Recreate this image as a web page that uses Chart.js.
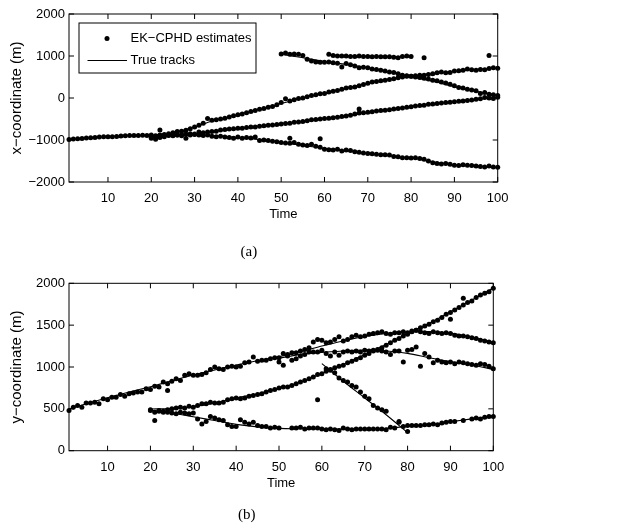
<!DOCTYPE html>
<html>
<head>
<meta charset="utf-8">
<script src="https://cdn.jsdelivr.net/npm/chart.js@4.4.1/dist/chart.umd.min.js"></script>
<style>
  html, body { margin: 0; padding: 0; background: #fff; }
  #wrap { position: relative; width: 626px; height: 530px; }
  canvas { position: absolute; left: 0; }
  #chartA { top: 0; }
  #chartB { top: 265px; }
</style>
</head>
<body>
<div id="wrap">
  <canvas id="chartA" width="626" height="265"></canvas>
  <canvas id="chartB" width="626" height="265"></canvas>
</div>
<script>
// tick labels
const timeTicks = [10, 20, 30, 40, 50, 60, 70, 80, 90, 100];
const xCoordTicks = [-2000, -1000, 0, 1000, 2000];
const yCoordTicks = [0, 500, 1000, 1500, 2000];

// ---- (a) x-coordinate estimates, one value per time step from the given start ----
const estX1 = [ // t = 1..100
  -990, -975, -970, -965, -955, -945, -940, -930, -925, -920,
  -920, -915, -905, -900, -895, -890, -895, -885, -890, -930,
  -900, -880, -870, -850, -830, -800, -790, -770, -730, -690,
  -650, -600, -490, -530, -520, -500, -480, -450, -420, -400,
  -380, -350, -320, -300, -270, -250, -220, -200, -160, -110,
  -20, -70, -40, -10, 0, 30, 60, 80, 100, 110,
  140, 160, 180, 210, 240, 250, 260, 290, 320, 350,
  380, 390, 410, 420, 440, 460, 480, 500, 520, 520,
  530, 540, 540, 560, 580, 600, 620, 600, 610, 640,
  650, 660, 690, 670, 660, 680, 670, 700, 720, 710];
const estX2 = [ // t = 20..100
  -960, -930, -940, -900, -880, -870, -880, -870, -860, -850,
  -860, -810, -830, -810, -800, -790, -760, -750, -740, -730,
  -720, -720, -700, -690, -690, -670, -660, -650, -640, -630,
  -620, -610, -600, -580, -570, -560, -540, -520, -510, -500,
  -490, -480, -470, -460, -440, -430, -410, -380, -360, -350,
  -340, -330, -310, -300, -290, -280, -260, -250, -240, -220,
  -210, -190, -180, -170, -150, -140, -130, -120, -110, -100,
  -90, -80, -70, -60, -50, -30, -20, 10, 0, -10,
  20];
const estX3 = [ // t = 20..100
  -880, -980, -900, -920, -890, -900, -880, -900, -960, -880,
  -870, -880, -890, -880, -910, -920, -910, -930, -940, -960,
  -930, -960, -940, -950, -930, -1010, -1000, -1010, -1030, -1040,
  -1060, -1070, -1080, -1060, -1100, -1120, -1130, -1100, -1150, -1170,
  -1220, -1230, -1240, -1220, -1260, -1240, -1250, -1280, -1290, -1310,
  -1320, -1330, -1340, -1350, -1350, -1360, -1390, -1400, -1420, -1420,
  -1430, -1420, -1440, -1460, -1500, -1540, -1560, -1570, -1560, -1580,
  -1600, -1610, -1590, -1600, -1610, -1620, -1630, -1640, -1620, -1640,
  -1650];
const estX4 = [ // t = 50..100
  1050, 1070, 1040, 1050, 1040, 1010, 920, 880, 860, 850,
  850, 860, 840, 830, 740, 820, 790, 760, 720, 730,
  720, 690, 680, 660, 640, 620, 610, 580, 540, 530,
  520, 500, 490, 470, 450, 420, 410, 380, 360, 330,
  290, 250, 240, 210, 190, 170, 110, 130, 90, 80,
  60];
const estX5 = [ // t = 61..80
  1040, 1010, 1000, 1000, 1000, 990, 990, 1000, 990, 990,
  980, 990, 980, 980, 980, 970, 960, 990, 1000, 990];
const clutterXTime = [22, 52, 59, 68, 83, 98];
const clutterX = [-760, -960, -970, -260, 960, 1010];

// ---- (a) true tracks, x-coordinate ----
const trueX1Time = [1, 5, 10, 15, 20, 25, 30, 35, 40, 45, 50, 55, 60, 65, 70, 75, 80, 85, 90, 95, 100];
const trueX1 = [-990, -955, -920, -900, -890, -830, -690, -520, -400, -270, -130, 0, 120, 230, 350, 450, 520, 580, 630, 680, 710];
const trueX23Time = [20, 25, 30, 35, 40, 45, 50, 55, 60, 65, 70, 75, 80, 85, 90, 95, 100];
const trueX2 = [-900, -890, -860, -790, -730, -670, -610, -560, -490, -420, -350, -270, -200, -140, -90, -30, 10];
const trueX3 = [-900, -890, -880, -905, -940, -990, -1060, -1130, -1200, -1260, -1320, -1380, -1430, -1520, -1590, -1620, -1650];
const trueX4Time = [50, 55, 60, 65, 70, 75, 80, 85, 90, 95, 100];
const trueX4 = [1040, 960, 870, 800, 720, 620, 510, 400, 270, 160, 60];
const trueX5Time = [61, 65, 70, 75, 80];
const trueX5 = [1030, 1005, 990, 985, 980];

// ---- (b) y-coordinate estimates ----
const estY1 = [ // t = 1..100
  480, 520, 540, 520, 570, 570, 580, 560, 620, 610,
  640, 640, 670, 650, 680, 690, 700, 700, 740, 730,
  770, 760, 820, 800, 830, 860, 840, 900, 920, 900,
  900, 910, 930, 970, 1000, 980, 970, 1000, 1010, 1000,
  1010, 1050, 1060, 1120, 1070, 1080, 1080, 1100, 1110, 1110,
  1160, 1150, 1170, 1170, 1190, 1210, 1230, 1300, 1330, 1320,
  1290, 1300, 1330, 1360, 1310, 1330, 1360, 1380, 1360, 1370,
  1390, 1400, 1410, 1420, 1400, 1390, 1410, 1410, 1420, 1410,
  1430, 1440, 1420, 1410, 1400, 1420, 1410, 1400, 1410, 1400,
  1380, 1370, 1370, 1360, 1350, 1340, 1320, 1310, 1300, 1290];
const estY2 = [ // t = 20..100
  490, 460, 480, 470, 490, 500, 510, 520, 510, 530,
  520, 540, 560, 560, 580, 570, 570, 580, 610, 620,
  630, 620, 630, 650, 660, 670, 680, 700, 720, 730,
  750, 760, 760, 780, 800, 820, 840, 860, 880, 910,
  920, 950, 970, 990, 1010, 1020, 1050, 1070, 1090, 1110,
  1140, 1160, 1190, 1210, 1230, 1260, 1290, 1320, 1340, 1370,
  1390, 1420, 1440, 1470, 1490, 1510, 1540, 1560, 1590, 1630,
  1650, 1680, 1710, 1740, 1770, 1790, 1830, 1860, 1880, 1900,
  1940];
const estY3 = [ // t = 20..100
  480, 360, 470, 460, 460, 450, 440, 460, 450, 440,
  450, 380, 320, 350, 410, 390, 370, 360, 310, 290,
  290, 370, 340, 320, 340, 300, 290, 290, 270, 280,
  270, null, null, 270, 270, 280, 260, 270, 270, 270,
  260, 250, 260, 250, 240, 270, 260, 250, 260, 260,
  260, 260, 260, 260, 260, 250, 280, 270, 340, 290,
  300, 300, 300, 300, 310, 310, 320, 310, 330, 340,
  350, 350, null, 360, null, 380, 390, 380, 400, 410,
  410];
const estY4 = [ // t = 50..100
  1060, 1020, 1130, 1080, 1100, 1130, 1150, 1180, 1180, 1180,
  1200, 1160, 1130, 1180, 1140, 1180, 1190, 1180, 1190, 1180,
  1200, 1190, 1200, 1200, 1190, 1180, 1150, 1190, 1190, 1060,
  1200, 1210, 1240, 1010, 1160, 1120, 1050, 1080, 1060, 1050,
  1060, 1040, 1060, 1050, 1040, 1030, 1020, 1040, 1030, 1010,
  980];
const estY5 = [ // t = 61..80
  980, 960, 930, 870, 840, 820, 780, 760, 700, 650,
  620, 540, 510, 490, 470, null, null, 350, null, 230];
const clutterYTime = [24, 59, 90, 93];
const clutterY = [720, 610, 1570, 1820];

// ---- (b) true tracks, y-coordinate ----
const trueY1 = [498, 560, 633, 700, 765, 835, 904, 965, 1024, 1075, 1123, 1183, 1250, 1310, 1365, 1400, 1420, 1425, 1405, 1355, 1295];
const trueY2 = [498, 505, 526, 570, 630, 680, 745, 820, 924, 1030, 1150, 1270, 1400, 1520, 1660, 1800, 1945];
const trueY3 = [486, 450, 406, 360, 315, 285, 267, 262, 259, 258, 262, 268, 290, 310, 345, 380, 415];
const trueY4 = [1104, 1151, 1175, 1191, 1203, 1191, 1163, 1112, 1064, 1024, 972];
const trueY5Time = [60, 65, 70, 75, 80];
const trueY5 = [1040, 830, 630, 430, 215];

const FONT = "'Liberation Sans', Arial, Helvetica, sans-serif";
const SERIF = "'Liberation Serif', 'Times New Roman', serif";

function fromStart(start, vals) {
  return vals.map((v, i) => ({ x: start + i, y: v })).filter(p => p.y !== null);
}
function pairs(times, vals) {
  return times.map((t, i) => ({ x: t, y: vals[i] }));
}

function estimates(points) {
  return {
    label: "EK\u2212CPHD estimates",
    data: points,
    showLine: false,
    pointRadius: 2.5,
    pointBorderWidth: 0,
    pointBackgroundColor: "#000",
    clip: false,
  };
}
function track(points, label) {
  return {
    label: label || "",
    data: points,
    showLine: true,
    pointRadius: 0,
    borderColor: "#000",
    borderWidth: 1.1,
    tension: 0.4,
    cubicInterpolationMode: "monotone",
  };
}

// box round the axes with inward ticks on all four sides
const boxTicks = {
  id: "boxTicks",
  afterDraw(chart) {
    const { ctx, chartArea: a, scales } = chart;
    ctx.save();
    ctx.strokeStyle = "#000";
    ctx.lineWidth = 1;
    ctx.beginPath();
    scales.x.ticks.forEach((t) => {
      const px = scales.x.getPixelForValue(t.value);
      ctx.moveTo(px, a.bottom);
      ctx.lineTo(px, a.bottom - 5);
      ctx.moveTo(px, a.top);
      ctx.lineTo(px, a.top + 5);
    });
    scales.y.ticks.forEach((t) => {
      const py = scales.y.getPixelForValue(t.value);
      ctx.moveTo(a.left, py);
      ctx.lineTo(a.left + 5, py);
      ctx.moveTo(a.right, py);
      ctx.lineTo(a.right - 5, py);
    });
    ctx.stroke();
    ctx.strokeRect(a.left, a.top, a.right - a.left, a.bottom - a.top);
    ctx.restore();
  },
};

// boxed legend in the upper left corner of the axes
const boxLegend = {
  id: "boxLegend",
  afterDraw(chart) {
    const { ctx, chartArea: a } = chart;
    const sets = chart.data.datasets;
    const x0 = a.left + 10, y0 = a.top + 9, w = 177, h = 50;
    ctx.save();
    ctx.fillStyle = "#fff";
    ctx.fillRect(x0, y0, w, h);
    ctx.strokeStyle = "#000";
    ctx.lineWidth = 1;
    ctx.strokeRect(x0, y0, w, h);
    ctx.fillStyle = "#000";
    ctx.beginPath();
    ctx.arc(x0 + 28, y0 + 15.5, 2.5, 0, Math.PI * 2);
    ctx.fill();
    ctx.beginPath();
    ctx.moveTo(x0 + 8.5, y0 + 37.5);
    ctx.lineTo(x0 + 48, y0 + 37.5);
    ctx.stroke();
    ctx.font = "13px " + FONT;
    ctx.textBaseline = "middle";
    ctx.fillText(sets[0].label, x0 + 51.5, y0 + 15.5);
    ctx.fillText(sets[1].label, x0 + 51.5, y0 + 37.5);
    ctx.restore();
  },
};

function makeOptions(cfg) {
  const tickFont = { family: FONT, size: 13 };
  return {
    responsive: false,
    animation: false,
    events: [],
    layout: { padding: { left: 0, top: cfg.padTop, right: cfg.padRight, bottom: cfg.padBottom } },
    plugins: {
      legend: { display: false },
      tooltip: { enabled: false },
      title: {
        display: true,
        position: "bottom",
        text: cfg.caption,
        color: "#000",
        font: { family: SERIF, size: 15, weight: "normal" },
        padding: { top: cfg.captionGap, bottom: 4 },
      },
    },
    scales: {
      x: {
        type: "linear",
        min: 1,
        max: 100,
        afterBuildTicks: (axis) => { axis.ticks = timeTicks.map((v) => ({ value: v })); },
        afterFit: (axis) => { axis.height = cfg.xHeight; },
        grid: { display: false, drawTicks: false },
        border: { display: false },
        ticks: { color: "#000", font: tickFont, padding: 9, maxRotation: 0, autoSkip: false, callback: (v) => String(v) },
        title: { display: true, text: "Time", color: "#000", font: tickFont, padding: { top: 0, bottom: 4 } },
      },
      y: {
        type: "linear",
        min: cfg.yTicks[0],
        max: cfg.yTicks[cfg.yTicks.length - 1],
        afterBuildTicks: (axis) => { axis.ticks = cfg.yTicks.map((v) => ({ value: v })); },
        afterFit: (axis) => { axis.width = 69; },
        grid: { display: false, drawTicks: false },
        border: { display: false },
        ticks: { color: "#000", font: tickFont, padding: 4, callback: (v) => (v < 0 ? "\u2212" : "") + Math.abs(v) },
        title: { display: true, text: cfg.yTitle, color: "#000", font: { family: FONT, size: 15 }, padding: { top: 8, bottom: 0 } },
      },
    },
  };
}

new Chart(document.getElementById("chartA"), {
  type: "scatter",
  data: {
    datasets: [
      estimates([
        ...fromStart(1, estX1), ...fromStart(20, estX2), ...fromStart(20, estX3),
        ...fromStart(50, estX4), ...fromStart(61, estX5), ...pairs(clutterXTime, clutterX),
      ]),
      track(pairs(trueX1Time, trueX1), "True tracks"),
      track(pairs(trueX23Time, trueX2)),
      track(pairs(trueX23Time, trueX3)),
      track(pairs(trueX4Time, trueX4)),
      track(pairs(trueX5Time, trueX5)),
    ],
  },
  options: makeOptions({
    yTicks: xCoordTicks, yTitle: "x\u2212coordinate (m)", caption: "(a)",
    padTop: 14, padRight: 128.3, padBottom: 0, xHeight: 43.8, captionGap: 17.2,
  }),
  plugins: [boxTicks, boxLegend],
});

new Chart(document.getElementById("chartB"), {
  type: "scatter",
  data: {
    datasets: [
      estimates([
        ...fromStart(1, estY1), ...fromStart(20, estY2), ...fromStart(20, estY3),
        ...fromStart(50, estY4), ...fromStart(61, estY5), ...pairs(clutterYTime, clutterY),
      ]),
      track(pairs(trueX1Time, trueY1), "True tracks"),
      track(pairs(trueX23Time, trueY2)),
      track(pairs(trueX23Time, trueY3)),
      track(pairs(trueX4Time, trueY4)),
      track(pairs(trueY5Time, trueY5)),
    ],
  },
  options: makeOptions({
    yTicks: yCoordTicks, yTitle: "y\u2212coordinate (m)", caption: "(b)",
    padTop: 18.3, padRight: 132.7, padBottom: 2, xHeight: 44.1, captionGap: 11.2,
  }),
  plugins: [boxTicks],
});
</script>
</body>
</html>
